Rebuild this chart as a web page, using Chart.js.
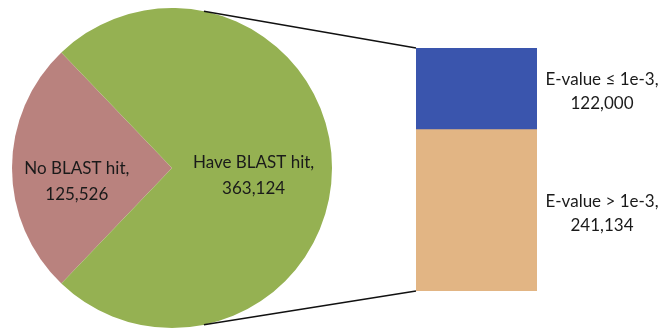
<!DOCTYPE html>
<html lang="en">
<head>
    <meta charset="UTF-8">
    <title>BLAST hits</title>
    <style>
        body { margin: 0; background: #ffffff; }
        .wrap { position: relative; width: 661px; height: 329px; overflow: hidden; }
        .wrap canvas { position: absolute; left: 0; top: 0; }
    </style>
    <script src="https://cdn.jsdelivr.net/npm/chart.js"></script>
</head>
<body>
    <div class="wrap">
        <canvas id="barChart" width="661" height="329"></canvas>
        <canvas id="pieChart" width="661" height="329"></canvas>
    </div>

    <script>
        // Pie data
        const pieLabels = ['No BLAST hit', 'Have BLAST hit'];
        const pieValues = [125526, 363124];
        const pieColors = ['#B9827E', '#95B152'];

        // Breakdown of the "Have BLAST hit" slice
        const barLabels = ['E-value ≤ 1e-3', 'E-value > 1e-3'];
        const barValues = [122000, 241134];
        const barColors = ['#3A55AD', '#E2B584'];

        const fontFamily = 'Lato, "Liberation Sans", sans-serif';
        const textColor = '#1a1a1a';

        function fmt(v) {
            return v.toLocaleString('en-US');
        }

        // Stacked bar: blue on top, tan below
        const barDatasets = barValues.map((v, i) => ({
            label: barLabels[i],
            data: [v],
            backgroundColor: barColors[i],
            borderWidth: 0,
            barPercentage: 1,
            categoryPercentage: 1
        })).reverse();

        const barLabelPlugin = {
            id: 'barLabels',
            afterDatasetsDraw(chart) {
                const ctx = chart.ctx;
                ctx.save();
                ctx.font = '17px ' + fontFamily;
                ctx.fillStyle = textColor;
                ctx.textAlign = 'center';
                ctx.textBaseline = 'middle';
                chart.data.datasets.forEach((ds, i) => {
                    const bar = chart.getDatasetMeta(i).data[0];
                    const cy = (bar.y + bar.base) / 2 + 3;
                    const cx = bar.x + bar.width / 2 + 65;
                    ctx.fillText(ds.label + ',', cx, cy - 12);
                    ctx.fillText(fmt(ds.data[0]), cx, cy + 12);
                });
                ctx.restore();
            }
        };

        const barChart = new Chart(document.getElementById('barChart'), {
            type: 'bar',
            data: { labels: [''], datasets: barDatasets },
            options: {
                responsive: false,
                animation: false,
                layout: { padding: { left: 416, right: 124, top: 48, bottom: 38 } },
                plugins: { legend: { display: false }, tooltip: { enabled: false } },
                scales: {
                    x: { stacked: true, display: false },
                    y: {
                        stacked: true, display: false, min: 0,
                        max: barValues.reduce((a, b) => a + b, 0)
                    }
                }
            },
            plugins: [barLabelPlugin]
        });

        const total = pieValues.reduce((a, b) => a + b, 0);
        const firstSweep = pieValues[0] / total * 360;

        const pieExtras = {
            id: 'pieExtras',
            afterDatasetsDraw(chart) {
                const ctx = chart.ctx;
                const arcs = chart.getDatasetMeta(0).data;
                const c = arcs[0];
                const r = c.outerRadius;

                // connector lines from the pie to the bar
                const meta = barChart.getDatasetMeta(1).data[0];
                const low = barChart.getDatasetMeta(0).data[0];
                const left = meta.x - meta.width / 2;
                const a1 = -78.5 * Math.PI / 180;
                const a2 = 78.5 * Math.PI / 180;
                ctx.save();
                ctx.strokeStyle = '#111111';
                ctx.lineWidth = 1.4;
                ctx.beginPath();
                ctx.moveTo(c.x + r * Math.cos(a1), c.y + r * Math.sin(a1));
                ctx.lineTo(left, meta.y);
                ctx.moveTo(c.x + r * Math.cos(a2), c.y + r * Math.sin(a2));
                ctx.lineTo(left, low.base);
                ctx.stroke();

                // slice labels
                ctx.font = '17px ' + fontFamily;
                ctx.fillStyle = textColor;
                ctx.textAlign = 'center';
                ctx.textBaseline = 'middle';
                arcs.forEach((arc, i) => {
                    const mid = (arc.startAngle + arc.endAngle) / 2;
                    const rr = i === 0 ? 0.595 * r : 0.51 * r;
                    const x = arc.x + rr * Math.cos(mid);
                    const y = arc.y + rr * Math.sin(mid) + (i === 0 ? 14 : 8);
                    ctx.fillText(pieLabels[i] + ',', x, y - 13);
                    ctx.fillText(fmt(pieValues[i]), x, y + 13);
                });
                ctx.restore();
            }
        };

        new Chart(document.getElementById('pieChart'), {
            type: 'pie',
            data: {
                labels: pieLabels,
                datasets: [{
                    data: pieValues,
                    backgroundColor: pieColors,
                    borderWidth: 0
                }]
            },
            options: {
                responsive: false,
                animation: false,
                rotation: 270 - firstSweep / 2,
                layout: { padding: { left: 12, right: 329, top: 8, bottom: 1 } },
                plugins: { legend: { display: false }, tooltip: { enabled: false } }
            },
            plugins: [pieExtras]
        });
    </script>
</body>
</html>
